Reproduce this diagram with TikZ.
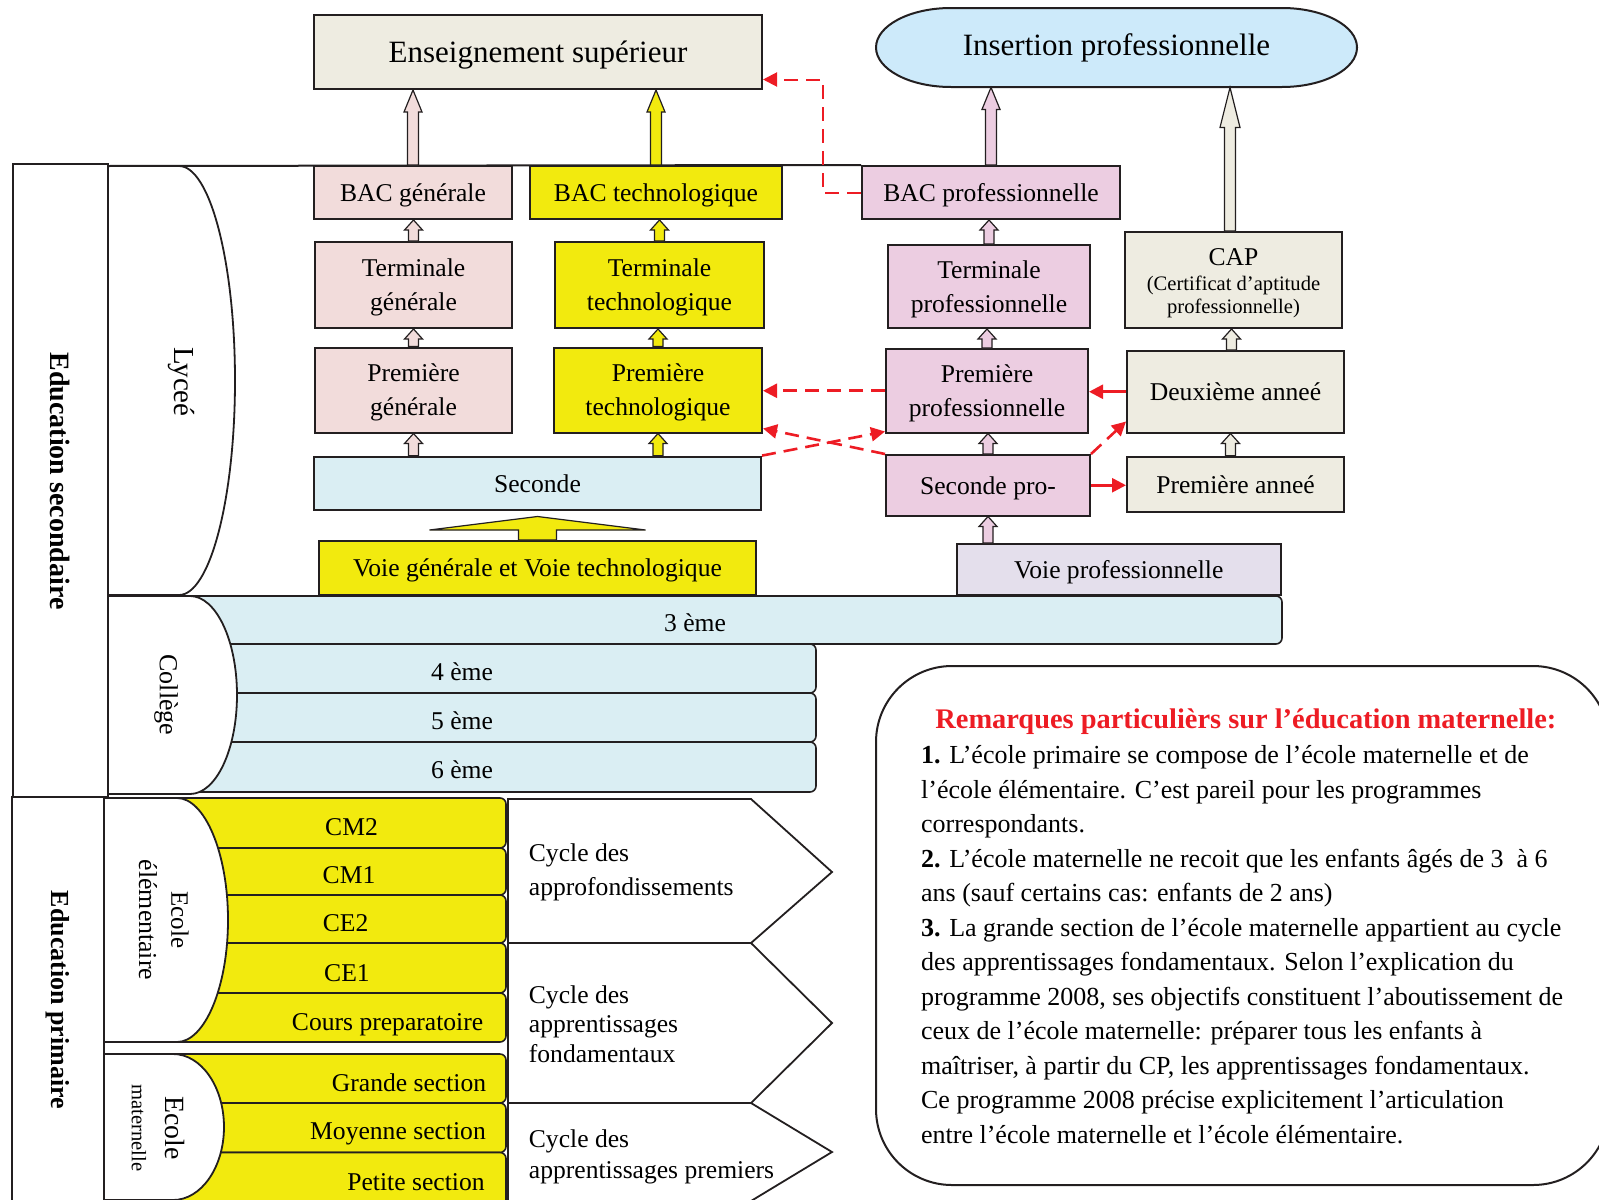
\documentclass[tikz,border=0pt]{standalone}
\usepackage{fontspec}
\setmainfont{Liberation Serif}
\usetikzlibrary{arrows.meta,calc}
\definecolor{lk}{RGB}{35,31,32}
\definecolor{beige}{RGB}{238,236,225}
\definecolor{insblue}{RGB}{205,234,250}
\definecolor{pinkg}{RGB}{242,220,219}
\definecolor{yel}{RGB}{242,234,14}
\definecolor{lblue}{RGB}{218,238,243}
\definecolor{pinkp}{RGB}{236,205,225}
\definecolor{lav}{RGB}{228,223,236}
\definecolor{rd}{RGB}{237,28,36}
\newcommand{\fA}{\fontsize{15.5}{18}\selectfont}
\newcommand{\fB}{\fontsize{12.8}{17}\selectfont}
\newcommand{\fC}{\fontsize{10.3}{12}\selectfont}
\newcommand{\fR}{\fontsize{13}{17}\selectfont}
\newcommand{\hollowup}[6]{\path[harr,fill=#3] let \p1=(#1), \p2=(#2) in (\x1-#4,\y1) -- (\x1-#4,\y2-#6) -- (\x1-#5,\y2-#6) -- (\x1,\y2) -- (\x1+#5,\y2-#6) -- (\x1+#4,\y2-#6) -- (\x1+#4,\y1) -- cycle;}
\begin{document}
\begin{tikzpicture}[x=0.5pt,y=-0.5pt,
 bx/.style={draw=lk, line width=1pt, inner sep=0pt, align=center, font=\fB, text depth=0pt},
 harr/.style={draw=lk, line width=0.6pt},
 frame/.style={draw=lk, line width=1pt},
 dshape/.style={fill=white, draw=lk, line width=0.9pt},
 pent/.style={fill=white, draw=lk, line width=0.9pt},
 rowy/.style={draw=lk, line width=0.8pt, fill=yel, rounded corners=3pt, inner sep=0pt},
 rowb/.style={draw=lk, line width=0.8pt, fill=lblue, rounded corners=3pt, inner sep=0pt, font=\fB, text height=11.6pt, text depth=0pt},
 lbl/.style={inner sep=0pt, font=\fB},
 rem/.style={anchor=base west, inner sep=0pt, font=\fR},
 rdash/.style={draw=rd, line width=1.3pt, dash pattern=on 7pt off 4pt, -{Triangle[length=7pt,width=7pt]}},
 rsolid/.style={draw=rd, line width=1.3pt, -{Triangle[length=7pt,width=7pt]}},
]
\useasboundingbox (0,0) rectangle (1599,1199);
\clip (0,0) rectangle (1599,1199);

% ---------- remarks box ----------
\draw[draw=lk, line width=1pt, rounded corners=38pt] (876,666) rectangle (1609,1185);
\node[anchor=base west, inner sep=0pt, text=rd, font=\bfseries\fontsize{14.2}{17}\selectfont] (rt) at (935,728) {Remarques particulièrs sur l’éducation maternelle:};
\node[rem] (l1) at (920.7,763.6) {\textbf{1.} L’école primaire se compose de l’école maternelle et de};
\node[rem] (l2) at (920.7,798) {l’école élémentaire. C’est pareil pour les programmes};
\node[rem] (l3) at (920.7,832.5) {correspondants.};
\node[rem] (l4) at (920.7,867) {\textbf{2.} L’école maternelle ne recoit que les enfants âgés de 3\ \ à 6};
\node[rem] (l5) at (920.7,901.5) {ans (sauf certains cas: enfants de 2 ans)};
\node[rem] (l6) at (920.7,936) {\textbf{3.} La grande section de l’école maternelle appartient au cycle};
\node[rem] (l7) at (920.7,970.5) {des apprentissages fondamentaux. Selon l’explication du};
\node[rem] (l8) at (920.7,1005) {programme 2008, ses objectifs constituent l’aboutissement de};
\node[rem] (l9) at (920.7,1039.5) {ceux de l’école maternelle: préparer tous les enfants à};
\node[rem] (l10) at (920.7,1074) {maîtriser, à partir du CP, les apprentissages fondamentaux.};
\node[rem] (l11) at (920.7,1108.5) {Ce programme 2008 précise explicitement l’articulation};
\node[rem] (l12) at (920.7,1143) {entre l’école maternelle et l’école élémentaire.};

% ---------- lycee region ----------
\path[dshape] (108,166) -- (179,166) .. controls (209.9,166) and (235,262) .. (235,380.5) .. controls (235,499) and (209.9,595) .. (179,595) -- (108,595);

% ---------- top boxes ----------
\node[bx, fill=beige, minimum width=224pt, minimum height=37pt, font=\fA] (ens) at (538,52) {Enseignement supérieur};
\filldraw[fill=insblue, draw=lk, line width=1pt] (951,8) -- (1282,8) .. controls (1323.4,8) and (1357,25.7) .. (1357,47.5) .. controls (1357,69.3) and (1323.4,87) .. (1282,87) -- (951,87) .. controls (909.6,87) and (876,69.3) .. (876,47.5) .. controls (876,25.7) and (909.6,8) .. (951,8) -- cycle;
\node[inner sep=0pt, minimum width=240.5pt, minimum height=39.5pt, font=\fA] (ins) at (1116.5,47.5) {Insertion professionnelle};

\node[bx, fill=pinkg, minimum width=99pt, minimum height=26.5pt] (bacg) at (413,192.5) {BAC générale};
\node[bx, fill=yel, minimum width=126pt, minimum height=26.5pt] (bact) at (656,192.5) {BAC technologique};
\node[bx, fill=pinkp, minimum width=129pt, minimum height=26.5pt] (bacp) at (991,192.5) {BAC professionnelle};
\draw[frame] (108,166) -- (bacp.north west);

\node[bx, fill=pinkg, minimum width=98.5pt, minimum height=43pt] (termg) at (413.5,285) {Terminale\\générale};
\node[bx, fill=yel, minimum width=104.5pt, minimum height=43pt] (termt) at (659.5,285) {Terminale\\technologique};
\node[bx, fill=pinkp, minimum width=101pt, minimum height=41.5pt] (termp) at (989,286.5) {Terminale\\professionnelle};
\node[bx, fill=beige, minimum width=108.5pt, minimum height=48pt] (cap) at (1233.5,280) {};
\node[lbl] (capa) at (1233.5,257.6) {CAP};
\node[lbl, font=\fC] (capb) at (1233.5,285) {(Certificat d’aptitude};
\node[lbl, font=\fC] (capc) at (1233.5,308) {professionnelle)};

\node[bx, fill=pinkg, minimum width=98.5pt, minimum height=42.5pt] (premg) at (413.5,390) {Première\\générale};
\node[bx, fill=yel, minimum width=104pt, minimum height=42.5pt] (premt) at (658,390) {Première\\technologique};
\node[bx, fill=pinkp, minimum width=101pt, minimum height=41.75pt] (premp) at (987,390.75) {Première\\professionnelle};
\node[bx, fill=beige, minimum width=108.5pt, minimum height=40.75pt] (deux) at (1235.5,391.75) {Deuxième anneé};

\node[bx, fill=lblue, minimum width=223.5pt, minimum height=26.7pt] (sec) at (537.5,483.3) {Seconde};
\node[bx, fill=pinkp, minimum width=102pt, minimum height=30.25pt] (secp) at (988,485.25) {Seconde pro-};
\node[bx, fill=beige, minimum width=108.5pt, minimum height=27.7pt] (prema) at (1235.5,484.3) {Première anneé};

\node[bx, fill=yel, minimum width=218.5pt, minimum height=27pt] (voieg) at (537.5,568) {Voie générale et Voie technologique};
\node[bx, fill=lav, minimum width=161.75pt, minimum height=25.5pt] (voiep) at (1118.75,569.5) {Voie professionnelle};

% ---------- hollow arrows ----------
\hollowup{bacg.north}{ens.south}{pinkg}{2.75pt}{4.5pt}{11pt}
\hollowup{bact.north}{ens.south}{yel}{2.75pt}{4.5pt}{11pt}
\hollowup{bacp.north}{ins.south}{pinkp}{2.75pt}{4.5pt}{11pt}
\hollowup{$(cap.north)+(-3.5,0)$}{ins.south}{beige}{2.75pt}{5pt}{20pt}
\hollowup{termg.north}{bacg.south}{pinkg}{2.5pt}{4.5pt}{5pt}
\hollowup{premg.north}{termg.south}{pinkg}{2.5pt}{4.5pt}{5pt}
\hollowup{sec.north -| premg.north}{premg.south}{pinkg}{2.5pt}{4.5pt}{5pt}
\hollowup{termt.north}{bact.south}{yel}{2.5pt}{4.5pt}{5pt}
\hollowup{premt.north}{termt.south}{yel}{2.5pt}{4.5pt}{5pt}
\hollowup{sec.north -| premt.north}{premt.south}{yel}{2.5pt}{4.5pt}{5pt}
\hollowup{termp.north}{bacp.south}{pinkp}{2.5pt}{4.5pt}{5pt}
\hollowup{premp.north}{termp.south}{pinkp}{2.5pt}{4.5pt}{5pt}
\hollowup{secp.north}{premp.south}{pinkp}{2.5pt}{4.5pt}{5pt}
\hollowup{voiep.north -| secp.north}{secp.south}{pinkp}{2.5pt}{4.5pt}{5pt}
\hollowup{$(deux.north)+(-4,0)$}{cap.south}{beige}{2.5pt}{4.5pt}{5pt}
\hollowup{$(prema.north)+(-5,0)$}{deux.south}{beige}{2.5pt}{4.5pt}{5pt}
% big arrow voie generale -> seconde
\path[harr, fill=yel] let \p1=(voieg.north), \p2=(sec.south) in (\x2-9.5pt,\y1) -- (\x2-9.5pt,\y1+5pt) -- (\x2-54pt,\y1+5pt) -- (\x2,\y2-2.75pt) -- (\x2+54pt,\y1+5pt) -- (\x2+9.5pt,\y1+5pt) -- (\x2+9.5pt,\y1) -- cycle;

% ---------- red arrows ----------
\coordinate (ensin) at ($(ens.south east)+(0,-10.5)$);
\draw[rdash, line width=1pt] (bacp.west) -- ++(-38,0) |- (ensin);
\draw[rdash] (premp.west) -- (premp.west -| premt.east);
\draw[rsolid] (deux.west) -- (deux.west -| premp.east);
\draw[rdash] (secp.north west) -- ($(premt.south east)+(0,-5)$);
\draw[rdash] (sec.north east) -- ($(premp.south west)+(0,-2)$);
\draw[rdash] (secp.north east) -- ($(deux.south west)+(0,-12)$);
\draw[rsolid] (secp.east) -- (secp.east -| prema.west);

% ---------- college ----------
\node[rowb, minimum width=587pt, minimum height=24pt] (r3) at (695,620) {3 ème};
\node[rowb, minimum width=354pt, minimum height=24.5pt] (r4) at (462,668.5) {4 ème};
\node[rowb, minimum width=354pt, minimum height=24.5pt] (r5) at (462,717.5) {5 ème};
\node[rowb, minimum width=354pt, minimum height=25pt] (r6) at (462,767) {6 ème};
\path[dshape] (108,596) -- (190,596) .. controls (216,596) and (237,640.3) .. (237,695) .. controls (237,749.7) and (216,794) .. (190,794) -- (108,794);

% ---------- primaire rows ----------
\node[rowy, minimum width=178pt, minimum height=25pt] (cm2) at (328,823) {};
\node[rowy, minimum width=178pt, minimum height=23.5pt] (cm1) at (328,871.5) {};
\node[rowy, minimum width=178pt, minimum height=24pt] (ce2) at (328,919) {};
\node[rowy, minimum width=178pt, minimum height=25pt] (ce1) at (328,968) {};
\node[rowy, minimum width=178pt, minimum height=24.5pt] (cp) at (328,1017.5) {};
\node[rowy, minimum width=178pt, minimum height=24.5pt] (gs) at (328,1078.5) {};
\node[rowy, minimum width=178pt, minimum height=24.75pt] (ms) at (328,1127.75) {};
\node[rowy, minimum width=178pt, minimum height=28.75pt] (ps) at (328,1181.25) {};
\node[lbl, anchor=base] (tcm2) at (351.5,835.8) {CM2};
\node[lbl, anchor=base] (tcm1) at (349,883.2) {CM1};
\node[lbl, anchor=base] (tce2) at (345.6,931.4) {CE2};
\node[lbl, anchor=base] (tce1) at (347,981) {CE1};
\node[lbl, anchor=base] (tcp) at (387.6,1030) {Cours preparatoire};
\node[lbl, anchor=base] (tgs) at (409,1091) {Grande section};
\node[lbl, anchor=base] (tms) at (398,1139.8) {Moyenne section};
\node[lbl, anchor=base] (tps) at (416,1190) {Petite section};
\path[dshape] (104,798) -- (177,798) .. controls (204.6,798) and (228,852.6) .. (228,920) .. controls (228,987.4) and (204.6,1042) .. (177,1042) -- (104,1042);
\path[dshape] (104,1054) -- (173,1054) .. controls (201.2,1054) and (224,1086.7) .. (224,1127) .. controls (224,1167.3) and (201.2,1200) .. (173,1200) -- (104,1200);

% ---------- cycles ----------
\path[pent] (508,799) -- (751,799) -- (832,872) -- (751,943) -- (508,943) -- cycle;
\path[pent] (508,943) -- (751,943) -- (832,1023) -- (751,1103) -- (508,1103) -- cycle;
\path[pent] (508,1103) -- (751,1103) -- (832,1152) -- (751,1201) -- (508,1201) -- cycle;
\node[lbl, anchor=base west] (c1a) at (528.5,861) {Cycle des};
\node[lbl, anchor=base west] (c1b) at (528.5,895.8) {approfondissements};
\node[lbl, anchor=base west] (c2a) at (528.5,1003) {Cycle des};
\node[lbl, anchor=base west] (c2b) at (528.5,1032) {apprentissages};
\node[lbl, anchor=base west] (c2c) at (528.5,1062.5) {fondamentaux};
\node[lbl, anchor=base west] (c3a) at (528.5,1147) {Cycle des};
\node[lbl, anchor=base west] (c3b) at (528.5,1178) {apprentissages premiers};

% ---------- frames ----------
\draw[frame] (13,164) rectangle (108,797);
\draw[frame] (12,797) rectangle (104,1215);

% ---------- rotated labels ----------
\node[rotate=-90, inner sep=0pt, font=\bfseries\fontsize{14}{16}\selectfont] (edsec) at (60,481) {Education secondaire};
\node[rotate=-90, inner sep=0pt, font=\fontsize{14.5}{17}\selectfont] (lyc) at (181,382) {Lyceé};
\node[rotate=-90, inner sep=0pt, font=\fontsize{13}{15}\selectfont] (col) at (166,695) {Collège};
\node[rotate=-90, inner sep=0pt, font=\bfseries\fontsize{13}{15}\selectfont] (edpri) at (58,1000) {Education primaire};
\node[rotate=-90, inner sep=0pt, font=\fontsize{12.5}{15}\selectfont] (ecel) at (180,920) {Ecole};
\node[rotate=-90, inner sep=0pt, font=\fontsize{12.9}{15}\selectfont] (elem) at (148,920) {élémentaire};
\node[rotate=-90, inner sep=0pt, font=\fontsize{13.9}{15}\selectfont] (ecmat) at (175,1128) {Ecole};
\node[rotate=-90, inner sep=0pt, font=\fontsize{10.3}{12}\selectfont] (mat) at (139,1128) {maternelle};
\end{tikzpicture}
\end{document}
